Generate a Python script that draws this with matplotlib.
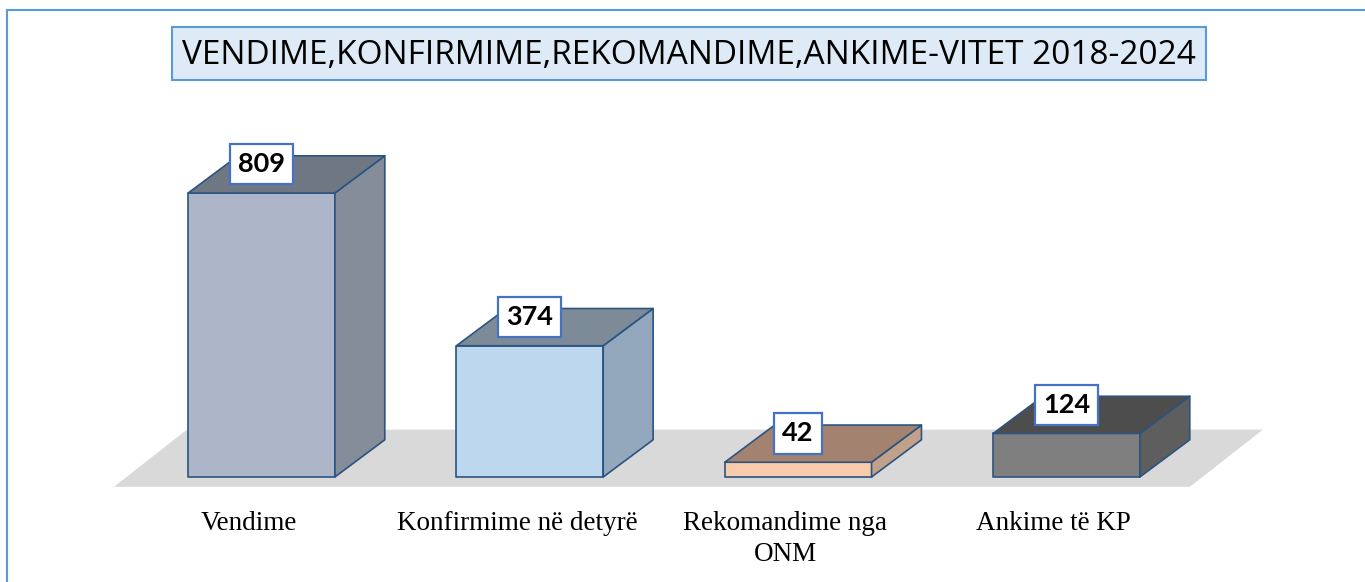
import matplotlib
matplotlib.use('Agg')
import matplotlib.pyplot as plt
from matplotlib.patches import Polygon, Rectangle
from matplotlib.lines import Line2D
from matplotlib import font_manager

# data
categories = ['Vendime', 'Konfirmime në detyrë', 'Rekomandime nga\nONM', 'Ankime të KP']
values = [809, 374, 42, 124]
front_colors = ['#ACB6C8', '#BDD7EE', '#F8CBAD', '#7F7F7F']
side_colors = ['#848D99', '#93A8BC', '#C2A18B', '#5E5E5E']
top_colors = ['#6F7782', '#7D8B98', '#A3836F', '#4D4D4D']
title = 'VENDIME,KONFIRMIME,REKOMANDIME,ANKIME-VITET 2018-2024'

installed = {f.name for f in font_manager.fontManager.ttflist}


def pick(*names):
    for n in names:
        if n in installed:
            return n
    return 'DejaVu Sans'


title_font = pick('Liberation Sans Narrow', 'Open Sans', 'Lato')
num_font = pick('Lato', 'Open Sans')
cat_font = pick('Liberation Serif', 'DejaVu Serif')

W, H = 1365, 582
fig = plt.figure(figsize=(W / 100, H / 100), dpi=100)
ax = fig.add_axes([0, 0, 1, 1])

# pixel scale of the data axes
sx, x0 = 268.33, 261.5
sy, y0 = 0.351, 105
ax.set_xlim(-x0 / sx, (W - x0) / sx)
ax.set_ylim(-y0 / sy, (H - y0) / sy)
ax.axis('off')

bar_w = 0.547
dx, dy = 0.186, 106

# floor
fdx, fdy = 0.272, 163
floor = [(-0.55, -28), (3.46, -28), (3.46 + fdx, -28 + fdy), (-0.55 + fdx, -28 + fdy)]
ax.add_patch(Polygon(floor, closed=True, fc='#D9D9D9', ec='none', zorder=1))

edge = '#2B5480'
for i, v in enumerate(values):
    xl, xr = i - bar_w / 2, i + bar_w / 2
    front = [(xl, 0), (xr, 0), (xr, v), (xl, v)]
    side = [(xr, 0), (xr + dx, dy), (xr + dx, v + dy), (xr, v)]
    top = [(xl, v), (xr, v), (xr + dx, v + dy), (xl + dx, v + dy)]
    for poly, c in [(front, front_colors[i]), (side, side_colors[i]), (top, top_colors[i])]:
        ax.add_patch(Polygon(poly, closed=True, fc=c, ec=edge, lw=1.2,
                             joinstyle='round', zorder=2))
    ax.text(i, v + 82, str(v), ha='center', va='center', fontsize=19.5,
            fontweight='bold', family=num_font, zorder=5,
            bbox=dict(boxstyle='square,pad=0.3', fc='white', ec='#4472C4', lw=1.6))
    ax.text(i - 0.048, -98, categories[i], ha='center', va='top',
            fontsize=19.5, family=cat_font, linespacing=1.3)

# outer border (left and top)
fig.add_artist(Line2D([7 / W, 7 / W], [0, 1 - 10 / H], transform=fig.transFigure,
                      color='#5B9BD5', lw=1.5))
fig.add_artist(Line2D([7 / W, 1], [1 - 10 / H, 1 - 10 / H], transform=fig.transFigure,
                      color='#5B9BD5', lw=1.5))

# title box
fig.add_artist(Rectangle((172 / W, 1 - 80 / H), (1206 - 172) / W, 53 / H,
                         transform=fig.transFigure, fc='#DEEBF7', ec='#5B9BD5', lw=1.5))
t = fig.text(689 / W, 1 - 55 / H, title, ha='center', va='center',
             fontsize=26, family=title_font, color='black')
r = fig.canvas.get_renderer()
w = t.get_window_extent(r).width
t.set_fontsize(26 * 1015 / w)

fig.savefig('out.png', dpi=100)
